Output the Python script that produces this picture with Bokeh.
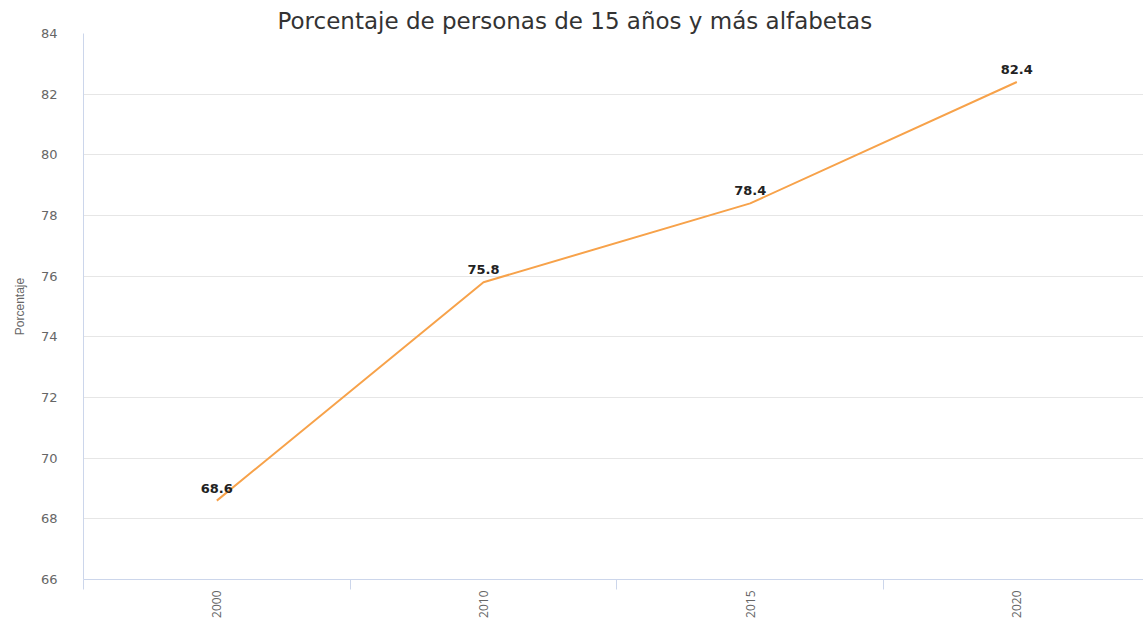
from bokeh.plotting import figure
from bokeh.models import ColumnDataSource, FixedTicker, Range1d, LabelSet
from bokeh.core.properties import value
from bokeh.embed import file_html
from bokeh.resources import INLINE

years = ["2000", "2010", "2015", "2020"]
values = [68.6, 75.8, 78.4, 82.4]
y_ticks = [66, 68, 70, 72, 74, 76, 78, 80, 82, 84]

xs = list(range(len(years)))
src = ColumnDataSource(dict(x=xs, y=values, lbl=[f"{v:.1f}" for v in values]))

p = figure(width=1143, height=620, output_backend="svg", toolbar_location=None,
           x_range=Range1d(-0.5, 3.475), y_range=Range1d(66, 84),
           min_border_left=83, min_border_right=0, min_border_bottom=41, min_border_top=33)
p.title.text = "Porcentaje de personas de 15 años y más alfabetas"
p.title.align = "left"
p.title.offset = 194
p.title.text_font = "DejaVu Sans"
p.title.text_font_size = "23px"
p.title.text_font_style = "normal"
p.title.text_color = "#333333"
p.title.standoff = 0
p.outline_line_color = None

p.line("x", "y", source=src, line_color="#f7a24a", line_width=2)

labels = LabelSet(x="x", y="y", text="lbl", source=src, text_align="center",
                  text_baseline="alphabetic", y_offset=8, text_font=value("DejaVu Sans"),
                  text_font_size="13px", text_font_style="bold", text_color="#222222")
p.add_layout(labels)

# x axis
p.xaxis.ticker = FixedTicker(ticks=xs, minor_ticks=[-0.5, 0.5, 1.5, 2.5])
p.xaxis.major_label_overrides = {i: y for i, y in enumerate(years)}
p.xaxis.major_label_orientation = 1.5708
p.xaxis.major_tick_line_color = None
p.xaxis.minor_tick_line_color = "#ccd6eb"
p.xaxis.minor_tick_out = 10
p.xaxis.minor_tick_in = 0
p.xaxis.axis_line_color = "#ccd6eb"
p.xaxis.major_label_text_font = "Open Sans"
p.xaxis.major_label_text_font_size = "12px"
p.xaxis.major_label_text_color = "#666666"
p.xaxis.major_label_standoff = 1

# y axis
p.yaxis.ticker = FixedTicker(ticks=y_ticks)
p.yaxis.major_tick_line_color = None
p.yaxis.minor_tick_line_color = None
p.yaxis.axis_line_color = "#ccd6eb"
p.yaxis.major_label_text_font = "DejaVu Sans"
p.yaxis.major_label_text_font_size = "13px"
p.yaxis.major_label_text_color = "#666666"
p.yaxis.major_label_standoff = 20
p.yaxis.axis_label = "Porcentaje"
p.yaxis.axis_label_text_font = "Liberation Sans"
p.yaxis.axis_label_text_font_size = "12px"
p.yaxis.axis_label_text_font_style = "normal"
p.yaxis.axis_label_text_color = "#666666"
p.yaxis.axis_label_standoff = 11

p.xgrid.grid_line_color = None
p.ygrid.grid_line_color = "#e6e6e6"

open("out.html", "w").write(file_html(p, INLINE))
